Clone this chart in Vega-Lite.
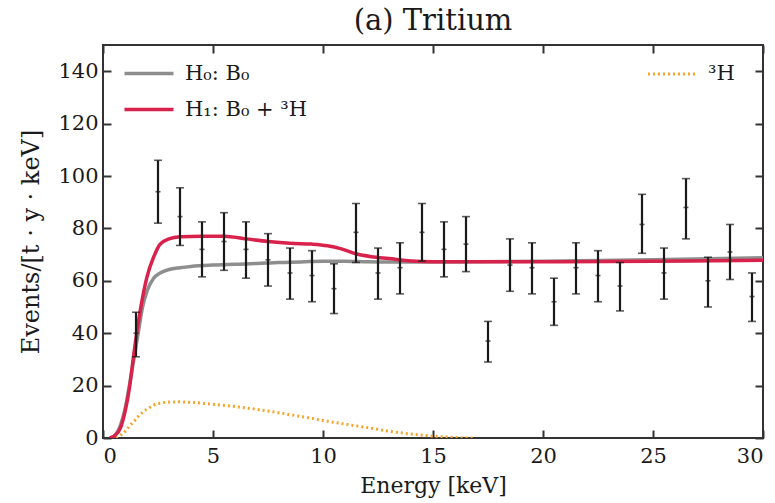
{
  "$schema": "https://vega.github.io/schema/vega-lite/v6.json",
  "width": 660,
  "height": 393,
  "autosize": {"type": "none"},
  "padding": {"left": 103, "top": 45, "right": 12, "bottom": 65},
  "background": "white",
  "title": {"text": "(a) Tritium", "font": "DejaVu Serif", "fontSize": 29, "fontWeight": "normal", "color": "#1a1a1a", "offset": 8},
  "config": {
    "view": {"stroke": "#333", "strokeWidth": 2},
    "axis": {"grid": false, "labelFont": "DejaVu Serif", "titleFont": "DejaVu Serif", "labelColor": "#1a1a1a", "titleColor": "#1a1a1a", "domainColor": "#333", "tickColor": "#333", "domainWidth": 2, "tickWidth": 2, "labelFontSize": 21, "titleFontSize": 22, "titleFontWeight": "normal"},
    "legend": {"labelFont": "DejaVu Serif", "labelFontSize": 21, "labelColor": "#1a1a1a"}
  },
  "datasets": {
    "points": [
      {"energy": 1.5, "rate": 40, "lo": 31, "hi": 48},
      {"energy": 2.5, "rate": 94, "lo": 82, "hi": 106},
      {"energy": 3.5, "rate": 84.5, "lo": 73.5, "hi": 95.5},
      {"energy": 4.5, "rate": 72, "lo": 61.5, "hi": 82.5},
      {"energy": 5.5, "rate": 75, "lo": 64, "hi": 86},
      {"energy": 6.5, "rate": 72, "lo": 61, "hi": 82.5},
      {"energy": 7.5, "rate": 68, "lo": 58, "hi": 78},
      {"energy": 8.5, "rate": 63, "lo": 53, "hi": 72.5},
      {"energy": 9.5, "rate": 62, "lo": 52, "hi": 71.5},
      {"energy": 10.5, "rate": 57, "lo": 47.5, "hi": 66.5},
      {"energy": 11.5, "rate": 78.5, "lo": 67, "hi": 89.5},
      {"energy": 12.5, "rate": 63, "lo": 53, "hi": 72.5},
      {"energy": 13.5, "rate": 65, "lo": 55, "hi": 74.5},
      {"energy": 14.5, "rate": 78.5, "lo": 67.5, "hi": 89.5},
      {"energy": 15.5, "rate": 72, "lo": 61.5, "hi": 82.5},
      {"energy": 16.5, "rate": 74, "lo": 63.5, "hi": 84.5},
      {"energy": 17.5, "rate": 37, "lo": 29, "hi": 44.5},
      {"energy": 18.5, "rate": 66, "lo": 56, "hi": 76},
      {"energy": 19.5, "rate": 65, "lo": 55, "hi": 74.5},
      {"energy": 20.5, "rate": 52, "lo": 43, "hi": 61},
      {"energy": 21.5, "rate": 65, "lo": 55, "hi": 74.5},
      {"energy": 22.5, "rate": 62, "lo": 52, "hi": 71.5},
      {"energy": 23.5, "rate": 58, "lo": 48.5, "hi": 67},
      {"energy": 24.5, "rate": 81.5, "lo": 70.5, "hi": 93},
      {"energy": 25.5, "rate": 63, "lo": 53, "hi": 72.5},
      {"energy": 26.5, "rate": 88, "lo": 76, "hi": 99},
      {"energy": 27.5, "rate": 60, "lo": 50, "hi": 69},
      {"energy": 28.5, "rate": 71, "lo": 60.5, "hi": 81.5},
      {"energy": 29.5, "rate": 54, "lo": 44.5, "hi": 63}
    ],
    "curves": [
      {"model": "H₀: B₀", "energy": 0.4, "rate": 0},
      {"model": "H₀: B₀", "energy": 0.6, "rate": 1.5},
      {"model": "H₀: B₀", "energy": 0.8, "rate": 5},
      {"model": "H₀: B₀", "energy": 1.0, "rate": 11},
      {"model": "H₀: B₀", "energy": 1.2, "rate": 20},
      {"model": "H₀: B₀", "energy": 1.4, "rate": 30},
      {"model": "H₀: B₀", "energy": 1.6, "rate": 40},
      {"model": "H₀: B₀", "energy": 1.8, "rate": 50},
      {"model": "H₀: B₀", "energy": 2.0, "rate": 56},
      {"model": "H₀: B₀", "energy": 2.3, "rate": 61},
      {"model": "H₀: B₀", "energy": 2.6, "rate": 63},
      {"model": "H₀: B₀", "energy": 3.0, "rate": 64.3},
      {"model": "H₀: B₀", "energy": 3.5, "rate": 65},
      {"model": "H₀: B₀", "energy": 4.0, "rate": 65.5},
      {"model": "H₀: B₀", "energy": 5.0, "rate": 66},
      {"model": "H₀: B₀", "energy": 6.0, "rate": 66.3},
      {"model": "H₀: B₀", "energy": 7.0, "rate": 66.6},
      {"model": "H₀: B₀", "energy": 8.0, "rate": 67},
      {"model": "H₀: B₀", "energy": 9.0, "rate": 67.2},
      {"model": "H₀: B₀", "energy": 10.0, "rate": 67.5},
      {"model": "H₀: B₀", "energy": 11.0, "rate": 67.5},
      {"model": "H₀: B₀", "energy": 12.0, "rate": 67.3},
      {"model": "H₀: B₀", "energy": 13.0, "rate": 67.2},
      {"model": "H₀: B₀", "energy": 15.0, "rate": 67.2},
      {"model": "H₀: B₀", "energy": 20.0, "rate": 67.5},
      {"model": "H₀: B₀", "energy": 25.0, "rate": 68},
      {"model": "H₀: B₀", "energy": 30.0, "rate": 68.8},
      {"model": "H₁: B₀ + ³H", "energy": 0.3, "rate": 0},
      {"model": "H₁: B₀ + ³H", "energy": 0.5, "rate": 0.7},
      {"model": "H₁: B₀ + ³H", "energy": 0.8, "rate": 4},
      {"model": "H₁: B₀ + ³H", "energy": 1.0, "rate": 10},
      {"model": "H₁: B₀ + ³H", "energy": 1.2, "rate": 19},
      {"model": "H₁: B₀ + ³H", "energy": 1.4, "rate": 32},
      {"model": "H₁: B₀ + ³H", "energy": 1.7, "rate": 49},
      {"model": "H₁: B₀ + ³H", "energy": 2.0, "rate": 61.5},
      {"model": "H₁: B₀ + ³H", "energy": 2.3, "rate": 69},
      {"model": "H₁: B₀ + ³H", "energy": 2.6, "rate": 74},
      {"model": "H₁: B₀ + ³H", "energy": 3.0, "rate": 76},
      {"model": "H₁: B₀ + ³H", "energy": 3.5, "rate": 76.8},
      {"model": "H₁: B₀ + ³H", "energy": 4.5, "rate": 77},
      {"model": "H₁: B₀ + ³H", "energy": 5.5, "rate": 77},
      {"model": "H₁: B₀ + ³H", "energy": 6.5, "rate": 76},
      {"model": "H₁: B₀ + ³H", "energy": 7.5, "rate": 75},
      {"model": "H₁: B₀ + ³H", "energy": 8.5, "rate": 74.3},
      {"model": "H₁: B₀ + ³H", "energy": 9.5, "rate": 74},
      {"model": "H₁: B₀ + ³H", "energy": 10.2, "rate": 73.4},
      {"model": "H₁: B₀ + ³H", "energy": 10.8, "rate": 72.3},
      {"model": "H₁: B₀ + ³H", "energy": 11.5, "rate": 70.3},
      {"model": "H₁: B₀ + ³H", "energy": 12.2, "rate": 69.2},
      {"model": "H₁: B₀ + ³H", "energy": 13.0, "rate": 68.5},
      {"model": "H₁: B₀ + ³H", "energy": 14.0, "rate": 67.6},
      {"model": "H₁: B₀ + ³H", "energy": 15.0, "rate": 67.3},
      {"model": "H₁: B₀ + ³H", "energy": 20.0, "rate": 67.3},
      {"model": "H₁: B₀ + ³H", "energy": 25.0, "rate": 67.5},
      {"model": "H₁: B₀ + ³H", "energy": 30.0, "rate": 67.8}
    ],
    "tritium": [
      {"comp": "³H", "energy": 0.6, "rate": 0},
      {"comp": "³H", "energy": 0.8, "rate": 1},
      {"comp": "³H", "energy": 1.0, "rate": 2.5},
      {"comp": "³H", "energy": 1.2, "rate": 4.5},
      {"comp": "³H", "energy": 1.4, "rate": 6.3},
      {"comp": "³H", "energy": 1.6, "rate": 8.2},
      {"comp": "³H", "energy": 1.8, "rate": 9.8},
      {"comp": "³H", "energy": 2.0, "rate": 11},
      {"comp": "³H", "energy": 2.3, "rate": 12.5},
      {"comp": "³H", "energy": 2.6, "rate": 13.3},
      {"comp": "³H", "energy": 3.0, "rate": 13.7},
      {"comp": "³H", "energy": 3.5, "rate": 13.8},
      {"comp": "³H", "energy": 4.0, "rate": 13.6},
      {"comp": "³H", "energy": 4.5, "rate": 13.3},
      {"comp": "³H", "energy": 5.0, "rate": 12.9},
      {"comp": "³H", "energy": 6.0, "rate": 12},
      {"comp": "³H", "energy": 7.0, "rate": 10.9},
      {"comp": "³H", "energy": 8.0, "rate": 9.6},
      {"comp": "³H", "energy": 9.0, "rate": 8.2},
      {"comp": "³H", "energy": 10.0, "rate": 6.7},
      {"comp": "³H", "energy": 11.0, "rate": 5.3},
      {"comp": "³H", "energy": 12.0, "rate": 4},
      {"comp": "³H", "energy": 13.0, "rate": 2.6},
      {"comp": "³H", "energy": 14.0, "rate": 1.5},
      {"comp": "³H", "energy": 15.0, "rate": 0.7},
      {"comp": "³H", "energy": 16.0, "rate": 0.2},
      {"comp": "³H", "energy": 16.8, "rate": 0}
    ]
  },
  "layer": [
    {
      "data": {"name": "tritium"},
      "mark": {"type": "line", "color": "#f5a52a", "strokeWidth": 3, "interpolate": "monotone", "clip": true},
      "encoding": {
        "x": {"field": "energy", "type": "quantitative", "scale": {"domain": [0, 30], "nice": false},
              "axis": {"title": "Energy [keV]", "values": [0, 5, 10, 15, 20, 25, 30], "ticks": false, "domain": false, "labelPadding": 7, "titlePadding": 9, "format": "d"}},
        "y": {"field": "rate", "type": "quantitative", "scale": {"domain": [0, 150], "nice": false},
              "axis": {"title": "Events/[t · y · keV]", "titleFontSize": 24, "values": [0, 20, 40, 60, 80, 100, 120, 140], "ticks": false, "domain": false, "labelPadding": 5, "titlePadding": 14, "format": "d"}},
        "strokeDash": {"field": "comp", "type": "nominal", "scale": {"domain": ["³H"], "range": [[2, 3]]},
                       "legend": {"title": null, "orient": "none", "legendX": 533, "legendY": 10, "symbolType": "M-0.4,0L2.4,0", "symbolSize": 1225, "symbolStrokeColor": "#f5a52a", "symbolStrokeWidth": 3, "symbolDash": [2, 3], "labelOffset": 34}}
      }
    },
    {
      "data": {"name": "curves"},
      "mark": {"type": "line", "strokeWidth": 3.5, "interpolate": "monotone", "clip": true},
      "encoding": {
        "x": {"field": "energy", "type": "quantitative",
              "axis": {"orient": "top", "offset": -393, "title": null, "labels": false, "domain": false, "values": [0, 5, 10, 15, 20, 25, 30], "tickSize": 8}},
        "y": {"field": "rate", "type": "quantitative",
              "axis": {"orient": "right", "offset": -660, "title": null, "labels": false, "domain": false, "values": [0, 20, 40, 60, 80, 100, 120, 140], "tickSize": 8}},
        "color": {"field": "model", "type": "nominal",
                  "scale": {"domain": ["H₀: B₀", "H₁: B₀ + ³H"], "range": ["#8e8e8e", "#d8224c"]},
                  "legend": {"title": null, "orient": "top-left", "offset": 9, "symbolType": "M-0.4,0L2.4,0", "symbolSize": 1225, "symbolStrokeWidth": 3.5, "labelOffset": 34, "rowPadding": 6}}
      }
    },
    {
      "data": {"name": "points"},
      "mark": {"type": "rule", "color": "#1a1a1a", "strokeWidth": 2.2},
      "encoding": {
        "x": {"field": "energy", "type": "quantitative",
              "axis": {"orient": "bottom", "offset": -393, "title": null, "labels": false, "domain": false, "values": [0, 5, 10, 15, 20, 25, 30], "tickSize": 8}},
        "y": {"field": "lo", "type": "quantitative",
              "axis": {"orient": "left", "offset": -660, "title": null, "labels": false, "domain": false, "values": [0, 20, 40, 60, 80, 100, 120, 140], "tickSize": 8}},
        "y2": {"field": "hi"}
      }
    },
    {
      "data": {"name": "points"},
      "mark": {"type": "tick", "orient": "horizontal", "color": "#1a1a1a", "size": 8, "thickness": 1.6},
      "encoding": {
        "x": {"field": "energy", "type": "quantitative", "axis": null},
        "y": {"field": "lo", "type": "quantitative", "axis": null}
      }
    },
    {
      "data": {"name": "points"},
      "mark": {"type": "tick", "orient": "horizontal", "color": "#1a1a1a", "size": 8, "thickness": 1.6},
      "encoding": {
        "x": {"field": "energy", "type": "quantitative", "axis": null},
        "y": {"field": "hi", "type": "quantitative", "axis": null}
      }
    },
    {
      "data": {"name": "points"},
      "mark": {"type": "tick", "orient": "horizontal", "color": "#1a1a1a", "size": 5, "thickness": 1.6},
      "encoding": {
        "x": {"field": "energy", "type": "quantitative", "axis": null},
        "y": {"field": "rate", "type": "quantitative", "axis": null}
      }
    }
  ],
  "resolve": {"axis": {"x": "independent", "y": "independent"}}
}
